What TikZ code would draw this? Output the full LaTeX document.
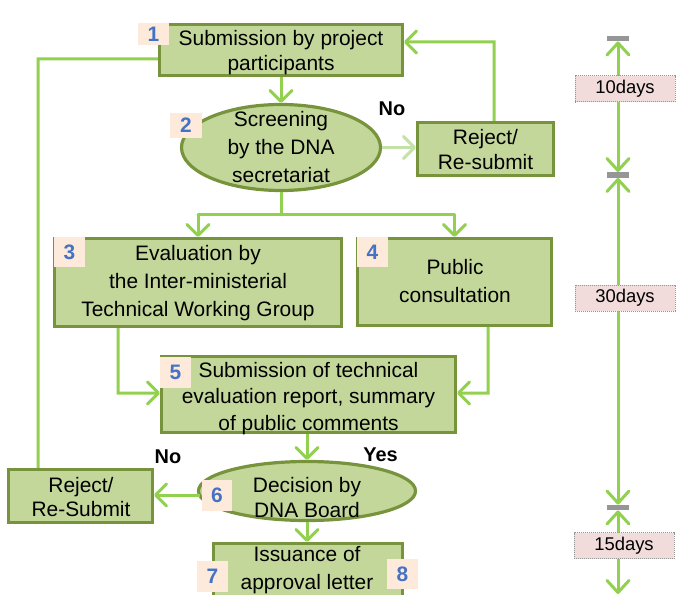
\documentclass[tikz,border=0pt]{standalone}
\usepackage{fontspec}
\setmainfont{Liberation Sans}
\usetikzlibrary{arrows.meta,shapes.geometric}
\definecolor{boxfill}{RGB}{196,215,155}
\definecolor{boxdraw}{RGB}{119,147,60}
\definecolor{lgreen}{RGB}{146,208,80}
\definecolor{pale}{RGB}{195,226,168}
\definecolor{badgefill}{RGB}{253,234,218}
\definecolor{badgeblue}{RGB}{68,114,196}
\definecolor{labfill}{RGB}{242,220,219}
\definecolor{labgray}{RGB}{150,150,150}
\definecolor{bargray}{RGB}{150,150,150}
\tikzset{
  box/.style={draw=boxdraw, fill=boxfill, line width=3.2bp, inner sep=0pt, rectangle},
  ell/.style={draw=boxdraw, fill=boxfill, line width=3.2bp, ellipse, inner sep=0pt},
  txt/.style={align=center, inner sep=0pt},
  badge/.style={fill=badgefill, inner sep=0pt, text=badgeblue, font=\fontsize{21}{21}\selectfont\bfseries},
  conn/.style={draw=lgreen, line width=3bp, -{Straight Barb[length=11bp,width=22bp,line width=3bp,round]}},
  plain/.style={draw=lgreen, line width=3bp},
  dlab/.style={fill=labfill, draw=labgray, densely dotted, line width=1bp, minimum width=100bp, minimum height=26bp, inner sep=0pt, font=\fontsize{18.5}{18.5}\selectfont},
  bar/.style={fill=bargray, inner sep=0pt, minimum width=22bp, minimum height=5.5bp},
  tl/.style={draw=lgreen, line width=3bp, {Straight Barb[length=12bp,width=22bp,line width=3bp,round]}-{Straight Barb[length=12bp,width=22bp,line width=3bp,round]}},
  yn/.style={inner sep=0pt, anchor=base, font=\fontsize{20}{20}\selectfont\bfseries}
}
\begin{document}
\begin{tikzpicture}[x=1bp,y=-1bp]
\clip (0,0) rectangle (677,595);
\fill[white] (0,0) rectangle (677,595);
% shapes
\node[box, minimum width=243bp, minimum height=51bp] (b1) at (281,50) {};
\node[ell, minimum width=199bp, minimum height=86bp] (e2) at (281,147.5) {};
\node[box, minimum width=136bp, minimum height=53bp] (rj1) at (485.5,149) {};
\node[box, minimum width=287bp, minimum height=88bp] (b3) at (198,282.5) {};
\node[box, minimum width=194bp, minimum height=87bp] (b4) at (454.5,282) {};
\node[box, minimum width=294bp, minimum height=76bp] (b5) at (308.5,394.5) {};
\node[ell, minimum width=217bp, minimum height=59bp] (e6) at (307,491) {};
\node[box, minimum width=144bp, minimum height=53bp] (rj2) at (80.5,496) {};
\node[box, minimum width=189bp, minimum height=62bp] (b7) at (308,574.5) {};
% texts
\node[txt, font=\fontsize{21}{25}\selectfont] (t1) at (281,53) {Submission by project\\participants};
\node[txt, font=\fontsize{21}{28.5}\selectfont] (t2) at (281,147) {Screening\\by the DNA\\secretariat};
\node[txt, font=\fontsize{21}{26}\selectfont] (tr1) at (485.5,149.5) {Reject/\\Re-submit};
\node[txt, font=\fontsize{21}{28.5}\selectfont] (t3) at (198,283) {Evaluation by\\the Inter-ministerial\\Technical Working Group};
\node[txt, font=\fontsize{21}{29}\selectfont] (t4) at (455,281) {Public\\consultation};
\node[txt, font=\fontsize{21}{27}\selectfont] (t5) at (308.5,398.5) {Submission of technical\\evaluation report, summary\\of public comments};
\node[txt, font=\fontsize{21}{24.5}\selectfont] (t6) at (307,497.7) {Decision by\\DNA Board};
\node[txt, font=\fontsize{21}{25}\selectfont] (tr2) at (81,497) {Reject/\\Re-Submit};
\node[txt, font=\fontsize{21}{28}\selectfont] (t7) at (307,570.5) {Issuance of\\approval letter};
% labels
\node[yn] (no1) at (392,116) {No};
\node[yn] (no2) at (168,463) {No};
\node[yn] (yes) at (380.5,461) {Yes};
% connectors
\draw[conn] (b1.south) -- (e2.north);
\draw[conn, draw=pale] (e2.east) -- (e2.east -| rj1.west);
\coordinate (c1) at (494,42);
\draw[conn] ([xshift=8.5bp]rj1.north) -- (c1) -- (c1 -| b1.east);
\coordinate (c2) at (38,59);
\draw[plain] ([xshift=-42.5bp]rj2.north) -- (c2) -- (c2 -| b1.west);
\coordinate (fork) at (281,214);
\draw[plain] (e2.south) -- (fork);
\draw[plain, line cap=round] (b3.north |- fork) -- (b4.north |- fork);
\draw[conn] (b3.north |- fork) -- (b3.north);
\draw[conn] (b4.north |- fork) -- (b4.north);
\coordinate (c3) at (118,393);
\draw[conn] ([xshift=-80bp]b3.south) -- (c3) -- (c3 -| b5.west);
\coordinate (c4) at (488,393);
\draw[conn] ([xshift=33.5bp]b4.south) -- (c4) -- (c4 -| b5.east);
\draw[conn] (e6.north |- b5.south) -- (e6.north);
\coordinate (c5) at (200,495);
\draw[conn] (c5) -- (c5 -| rj2.east);
\draw[conn] (e6.south) -- (e6.south |- b7.north);
% badges
\node[badge, minimum width=31bp, minimum height=22bp] (n1) at (153.5,34) {1};
\node[badge, minimum width=32bp, minimum height=25bp] (n2) at (186,125.5) {2};
\node[badge, minimum width=31bp, minimum height=30bp] (n3) at (69.5,252) {3};
\node[badge, minimum width=31bp, minimum height=30bp] (n4) at (372.5,252) {4};
\node[badge, minimum width=31bp, minimum height=31bp] (n5) at (175.5,372.5) {5};
\node[badge, minimum width=30bp, minimum height=31bp] (n6) at (217,495.5) {6};
\node[badge, minimum width=31bp, minimum height=31bp] (n7) at (212.5,576.5) {7};
\node[badge, minimum width=31bp, minimum height=30bp] (n8) at (402.5,574) {8};
% timeline
\node[bar] (bar1) at (618,38.5) {};
\node[bar] (bar2) at (618,175) {};
\node[bar] (bar3) at (618,507.5) {};
\coordinate (tend) at (618,594);
\draw[tl] (bar1.south) -- (bar2.north);
\draw[tl] (bar2.south) -- (bar3.north);
\draw[tl] (bar3.south) -- (tend);
\node[dlab] (d1) at (625,89) {10days};
\node[dlab] (d2) at (625,298) {30days};
\node[dlab] (d3) at (624,545.5) {15days};
\end{tikzpicture}
\end{document}
